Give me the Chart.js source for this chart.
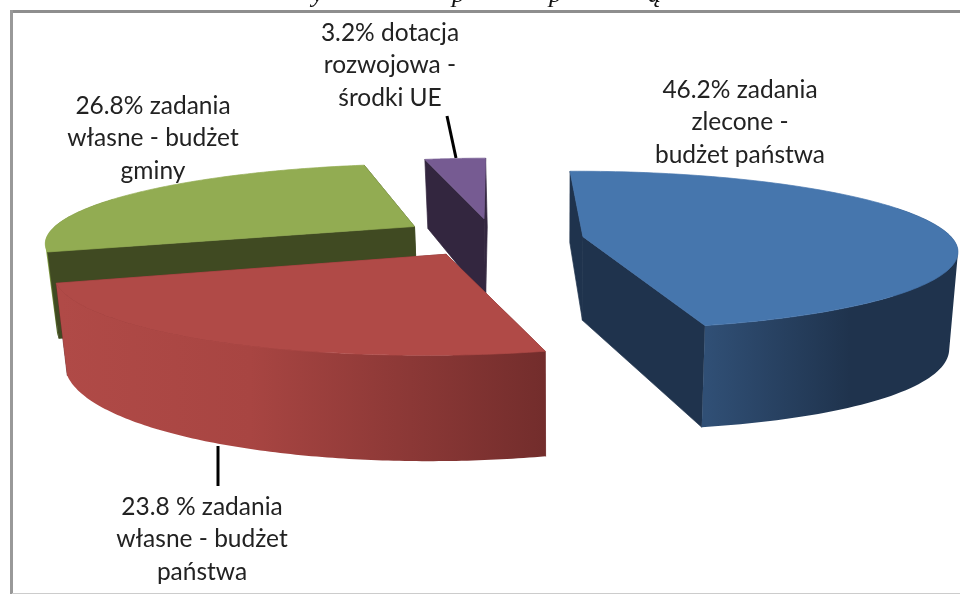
<!DOCTYPE html>
<html lang="pl">
<head>
<meta charset="utf-8">
<title>Struktura</title>
<style>
html,body{margin:0;padding:0;background:#fff;overflow:hidden}
#wrap{position:absolute;left:0;top:0;width:960px;height:594px}
canvas{display:block}
</style>
<script src="https://cdn.jsdelivr.net/npm/chart.js@4/dist/chart.umd.min.js"></script>
</head>
<body>
<div id="wrap"><canvas id="c" width="960" height="594"></canvas></div>
<script>
// ---- data ----
const categories = [
  ['46.2% zadania', 'zlecone -', 'budżet państwa'],
  ['23.8 % zadania', 'własne - budżet', 'państwa'],
  ['26.8% zadania', 'własne - budżet', 'gminy'],
  ['3.2% dotacja', 'rozwojowa -', 'środki UE']
];
const values = [46.2, 23.8, 26.8, 3.2];
const explode = [57, 68, 73, 72];
const topColors = ['#4676ad', '#b04a47', '#92ac52', '#765b92'];
const sideColors = ['#1f334d', '#732d2c', '#404a22', '#33263f'];

// ---- view of the pie plane ----
const view = {
  vanishX: 540, vanishY: 239, width: 370, height: 77.5, persp: 0.1735,
  depth: 84, pieShift: -0.1, bottomX: 560, bottomShrink: 0.022, rightSwell: 0.1
};
const nudges = [[0, 0], [-0.023, -0.04], [-0.004, -0.03], [-0.025, 0]];
const outerWallBelow = [false, false, true, false];
const labelBoxes = [
  {x: 740, y: 90}, {x: 202, y: 507}, {x: 153, y: 106}, {x: 390, y: 33}
];
const lineStep = 32.5;
const leaders = [null, [218, 446, 218, 486], null, [447, 116, 456, 158]];
const drawOrder = [2, 3, 1, 0];
const wallStops = [
  [[707, '#304f75'], [850, '#1f334d']],
  [[60, '#b04a47'], [250, '#a84542'], [545, '#732d2c']],
  [[48, '#8dab4e'], [56, '#5d7430']],
  [[420, '#33263f'], [490, '#33263f']]
];
const captionGlyphs = [['y', 312], ['p', 452], ['p', 549], ['ą', 648]];

function project(p, q, low) {
  const w = 1 / (1 - view.persp * q);
  const pv = p + view.pieShift;
  let x = view.vanishX + view.width * pv * w;
  let y = view.vanishY + view.height * q * w;
  if (low) {
    y += view.depth * w * (1 + view.rightSwell * (pv > 0 ? pv * pv : 0));
    x -= (x - view.bottomX) * view.bottomShrink;
  }
  return [x, y];
}

function addPoly(ctx, pts) {
  pts.forEach((pt, i) => i ? ctx.lineTo(pt[0], pt[1]) : ctx.moveTo(pt[0], pt[1]));
  ctx.closePath();
}

function paint(ctx, pts) {
  ctx.beginPath();
  addPoly(ctx, pts);
  ctx.fill();
  ctx.stroke();
}

function signedArea(pts) {
  let a = 0;
  pts.forEach((pt, i) => {
    const n = pts[(i + 1) % pts.length];
    a += pt[0] * n[1] - n[0] * pt[1];
  });
  return a;
}

function drawSlice(ctx, arc, i) {
  const R = arc.outerRadius;
  const mid = (arc.startAngle + arc.endAngle) / 2;
  const e = arc.options.offset / R;
  const ap = e * Math.cos(mid) + nudges[i][0], aq = e * Math.sin(mid) + nudges[i][1];
  const steps = 120;
  const rimTop = [], rimLow = [], frontTop = [], frontLow = [];
  for (let s = 0; s <= steps; s++) {
    const t = arc.startAngle + (arc.endAngle - arc.startAngle) * s / steps;
    const p = ap + Math.cos(t), q = aq + Math.sin(t);
    const a = project(p, q, false), b = project(p, q, true);
    rimTop.push(a);
    rimLow.push(b);
    if (Math.sin(t) > -0.4) { frontTop.push(a); frontLow.push(b); }
  }
  const apexTop = project(ap, aq, false), apexLow = project(ap, aq, true);
  ctx.lineWidth = 0.7;
  ctx.lineJoin = 'round';

  const cutWalls = () => {
    ctx.fillStyle = ctx.strokeStyle = sideColors[i];
    paint(ctx, [apexTop, rimTop[0], rimLow[0], apexLow]);
    paint(ctx, [apexTop, rimTop[steps], rimLow[steps], apexLow]);
  };
  const outerWall = () => {
    const stops = wallStops[i];
    const x0 = stops[0][0], x1 = stops[stops.length - 1][0];
    const g = ctx.createLinearGradient(x0, 0, x1, 0);
    stops.forEach(st => g.addColorStop((st[0] - x0) / (x1 - x0), st[1]));
    ctx.fillStyle = g;
    ctx.beginPath();
    for (let s = 0; s + 1 < frontTop.length; s++) {
      const quad = [frontTop[s], frontTop[s + 1], frontLow[s + 1], frontLow[s]];
      addPoly(ctx, signedArea(quad) < 0 ? quad.reverse() : quad);
    }
    ctx.fill();
  };
  if (outerWallBelow[i]) { outerWall(); cutWalls(); } else { cutWalls(); outerWall(); }

  // top face
  ctx.fillStyle = ctx.strokeStyle = arc.options.backgroundColor;
  paint(ctx, [apexTop].concat(rimTop));
}

const pie3d = {
  id: 'pie3d',
  beforeDatasetDraw(chart, args) {
    const ctx = chart.ctx;
    const arcs = chart.getDatasetMeta(args.index).data;
    ctx.save();
    // page frame
    ctx.fillStyle = '#8e8e8e';
    ctx.fillRect(10, 10, 950, 3);
    ctx.fillStyle = '#999999';
    ctx.fillRect(10, 10, 3, 584);
    ctx.fillStyle = '#cccccc';
    ctx.fillRect(12, 593, 948, 1);

    // clipped caption line above the frame
    ctx.fillStyle = '#111';
    ctx.font = 'italic 26px "Liberation Serif"';
    ctx.textAlign = 'left';
    ctx.textBaseline = 'alphabetic';
    captionGlyphs.forEach(gl => ctx.fillText(gl[0], gl[1], 2));

    // leader lines sit below the slices
    ctx.strokeStyle = '#000';
    ctx.lineWidth = 3;
    leaders.forEach(l => {
      if (!l) return;
      ctx.beginPath();
      ctx.moveTo(l[0], l[1]);
      ctx.lineTo(l[2], l[3]);
      ctx.stroke();
    });

    drawOrder.forEach(i => drawSlice(ctx, arcs[i], i));

    // labels
    ctx.fillStyle = '#222';
    ctx.font = '24.5px Lato';
    ctx.textAlign = 'center';
    ctx.textBaseline = 'middle';
    chart.data.labels.forEach((lines, i) => {
      lines.forEach((ln, k) => ctx.fillText(ln, labelBoxes[i].x, labelBoxes[i].y + k * lineStep));
    });
    ctx.restore();
    return false;
  }
};

new Chart(document.getElementById('c'), {
  type: 'pie',
  data: {
    labels: categories,
    datasets: [{
      data: values,
      backgroundColor: topColors,
      borderWidth: 0,
      offset: explode
    }]
  },
  options: {
    responsive: false,
    animation: false,
    rotation: -1.2,
    layout: {padding: 0},
    plugins: {legend: {display: false}, tooltip: {enabled: false}, title: {display: false}}
  },
  plugins: [pie3d]
});
</script>
</body>
</html>
